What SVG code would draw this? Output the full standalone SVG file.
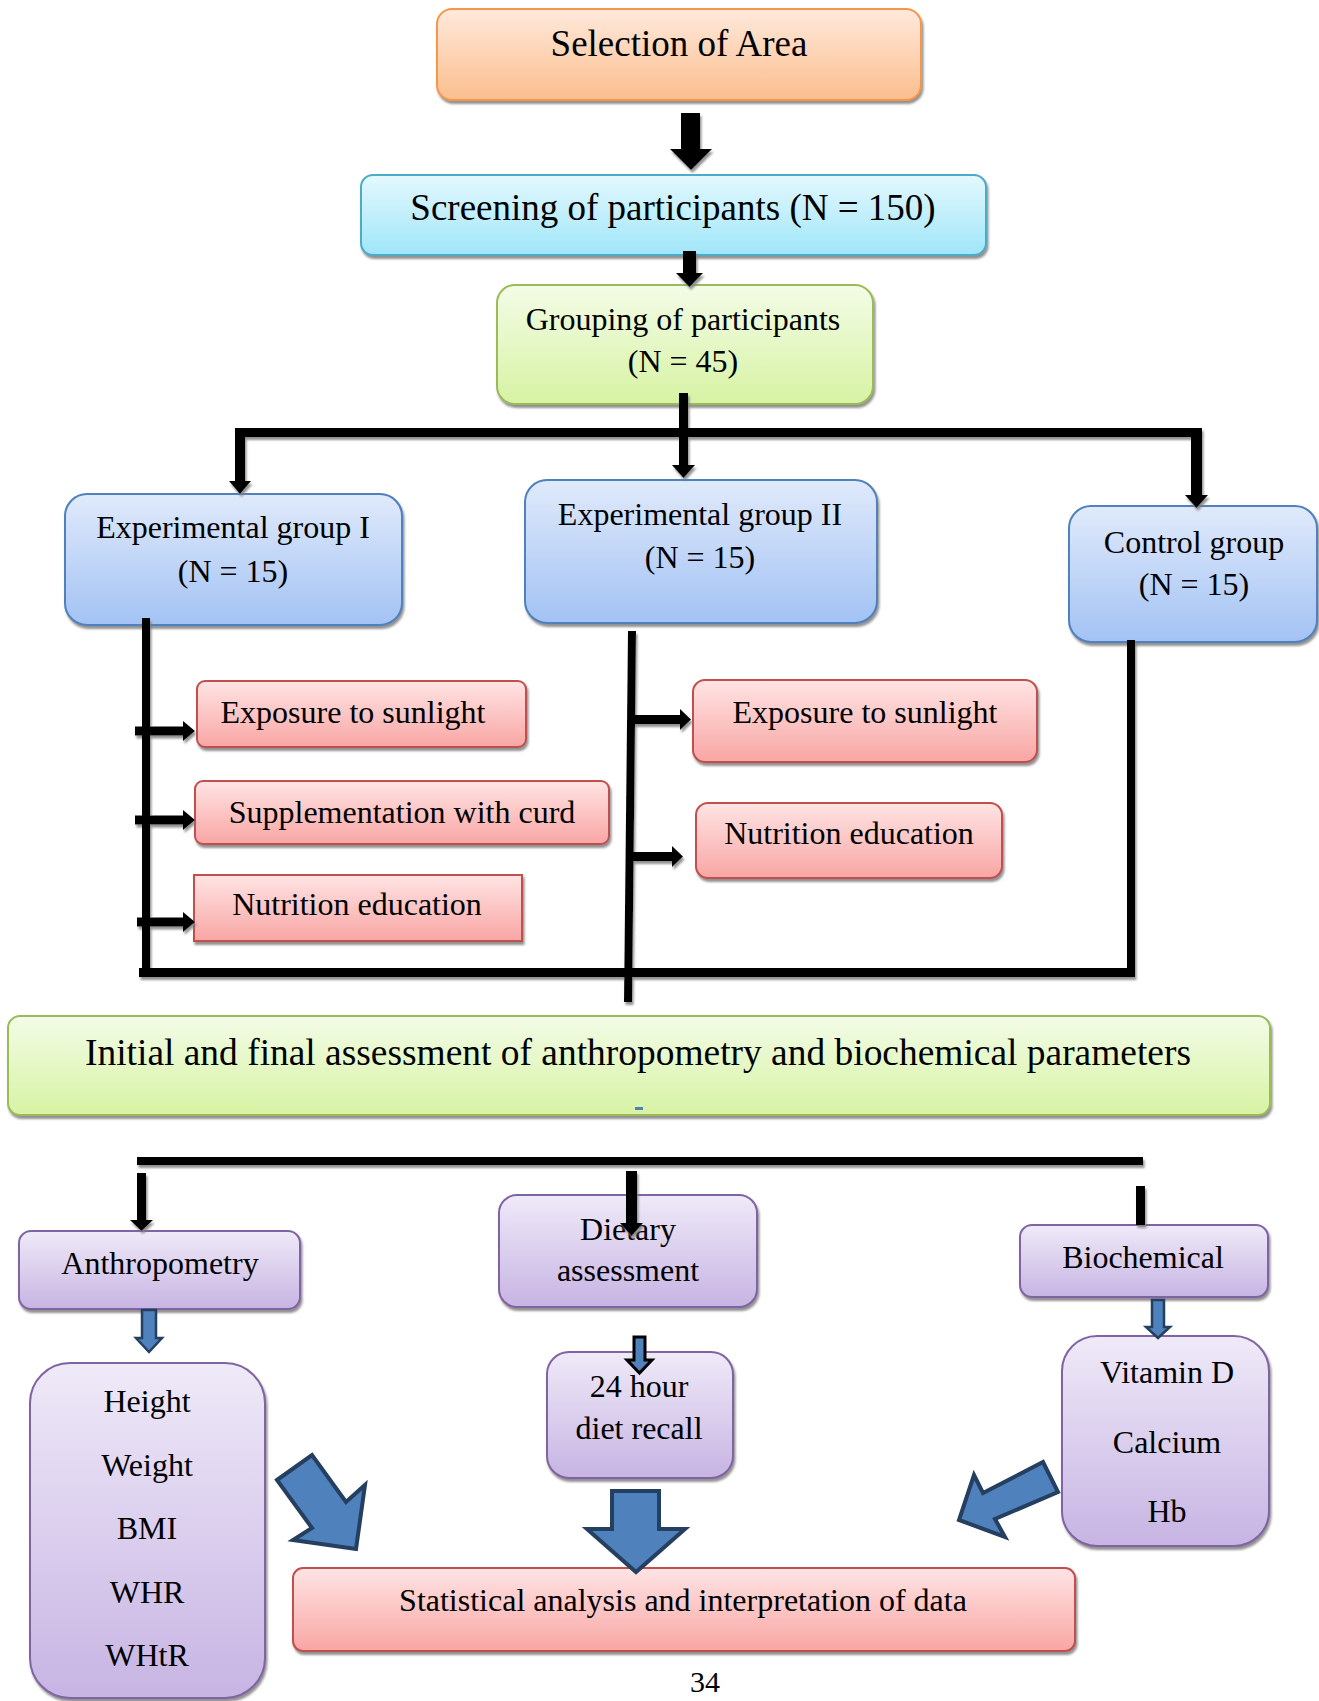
<svg xmlns="http://www.w3.org/2000/svg" width="1319" height="1701" viewBox="0 0 1319 1701">
<style>
text{font-family:"Liberation Serif","Times New Roman",serif;fill:#000;text-anchor:middle}
.t32{font-size:32px}
.t37{font-size:37px}
.box{stroke-width:2}
.or{fill:url(#gOr);stroke:#F79646}
.cy{fill:url(#gCy);stroke:#4BACC6}
.gr{fill:url(#gGr);stroke:#9BBB59}
.bl{fill:url(#gBl);stroke:#4F81BD}
.rd{fill:url(#gRd);stroke:#C0504D}
.pu{fill:url(#gPu);stroke:#8064A2}
.blk{fill:#000}
.barrow{fill:#4F81BD;stroke:#243F60;stroke-width:4;stroke-linejoin:miter}
</style>
<defs>
<linearGradient id="gOr" x1="0" y1="0" x2="0" y2="1"><stop offset="0" stop-color="#FFE9DC"/><stop offset="1" stop-color="#FBBE8E"/></linearGradient>
<linearGradient id="gCy" x1="0" y1="0" x2="0" y2="1"><stop offset="0" stop-color="#E4F8FE"/><stop offset="1" stop-color="#9FE6F9"/></linearGradient>
<linearGradient id="gGr" x1="0" y1="0" x2="0" y2="1"><stop offset="0" stop-color="#F3FCE7"/><stop offset="1" stop-color="#D7F3A3"/></linearGradient>
<linearGradient id="gBl" x1="0" y1="0" x2="0" y2="1"><stop offset="0" stop-color="#E0EAFB"/><stop offset="1" stop-color="#A3C2F4"/></linearGradient>
<linearGradient id="gRd" x1="0" y1="0" x2="0" y2="1"><stop offset="0" stop-color="#FFE4E4"/><stop offset="1" stop-color="#F8A6A4"/></linearGradient>
<linearGradient id="gPu" x1="0" y1="0" x2="0" y2="1"><stop offset="0" stop-color="#EFEAF8"/><stop offset="1" stop-color="#C7B4E3"/></linearGradient>
<filter id="sh" x="-5%" y="-5%" width="110%" height="120%"><feDropShadow dx="1.5" dy="3" stdDeviation="1" flood-color="#7F7F7F" flood-opacity="0.85"/></filter>
</defs>

<g id="n-selection"><rect class="box or" x="437" y="9" width="484" height="91" rx="15" filter="url(#sh)"/><text class="t37" x="679" y="56">Selection of Area</text></g>
<g id="n-screening"><rect class="box cy" x="361" y="175" width="625" height="80" rx="12" filter="url(#sh)"/><text class="t37" x="673" y="220">Screening of participants (N = 150)</text></g>
<g id="n-grouping"><rect class="box gr" x="497" y="285" width="376" height="119" rx="18" filter="url(#sh)"/><text class="t32" x="683" y="330">Grouping of participants</text><text class="t32" x="683" y="372">(N = 45)</text></g>

<g id="n-exp1"><rect class="box bl" x="65" y="494" width="337" height="131" rx="22" filter="url(#sh)"/><text class="t32" x="233" y="538">Experimental group I</text><text class="t32" x="233" y="582">(N = 15)</text></g>
<g id="n-exp2"><rect class="box bl" x="525" y="480" width="352" height="143" rx="22" filter="url(#sh)"/><text class="t32" x="700" y="525">Experimental group II</text><text class="t32" x="700" y="568">(N = 15)</text></g>
<g id="n-control"><rect class="box bl" x="1069" y="506" width="248" height="136" rx="22" filter="url(#sh)"/><text class="t32" x="1194" y="553">Control group</text><text class="t32" x="1194" y="595">(N = 15)</text></g>

<g id="n-e1-sun"><rect class="box rd" x="197" y="681" width="329" height="66" rx="8" filter="url(#sh)"/><text class="t32" x="353" y="723">Exposure to sunlight</text></g>
<g id="n-e1-curd"><rect class="box rd" x="195" y="781" width="414" height="63" rx="8" filter="url(#sh)"/><text class="t32" x="402" y="823">Supplementation with curd</text></g>
<g id="n-e1-edu"><rect class="box rd" x="194" y="875" width="328" height="66" filter="url(#sh)"/><text class="t32" x="357" y="915">Nutrition education</text></g>
<g id="n-e2-sun"><rect class="box rd" x="693" y="680" width="344" height="82" rx="12" filter="url(#sh)"/><text class="t32" x="865" y="723">Exposure to sunlight</text></g>
<g id="n-e2-edu"><rect class="box rd" x="696" y="803" width="306" height="75" rx="12" filter="url(#sh)"/><text class="t32" x="849" y="844">Nutrition education</text></g>

<g id="n-assessment"><rect class="box gr" x="8" y="1016" width="1262" height="99" rx="12" filter="url(#sh)"/><text class="t37" x="638" y="1065" textLength="1106" lengthAdjust="spacingAndGlyphs">Initial and final assessment of anthropometry and biochemical parameters</text><rect x="635" y="1107" width="8" height="3" fill="#4F81BD"/></g>

<g id="n-anthro"><rect class="box pu" x="19" y="1231" width="281" height="78" rx="12" filter="url(#sh)"/><text class="t32" x="160" y="1274">Anthropometry</text></g>
<g id="n-dietary"><rect class="box pu" x="499" y="1195" width="258" height="112" rx="18" filter="url(#sh)"/><text class="t32" x="628" y="1240">Dietary</text><text class="t32" x="628" y="1281">assessment</text></g>
<g id="n-bio"><rect class="box pu" x="1020" y="1225" width="248" height="72" rx="12" filter="url(#sh)"/><text class="t32" x="1143" y="1268">Biochemical</text></g>

<g id="n-anthro-list"><rect class="box pu" x="30" y="1363" width="235" height="335" rx="40" filter="url(#sh)"/><text class="t32" x="147" y="1412">Height</text><text class="t32" x="147" y="1476">Weight</text><text class="t32" x="147" y="1539">BMI</text><text class="t32" x="147" y="1603">WHR</text><text class="t32" x="147" y="1666">WHtR</text></g>
<g id="n-recall"><rect class="box pu" x="547" y="1352" width="186" height="126" rx="22" filter="url(#sh)"/><text class="t32" x="639" y="1397">24 hour</text><text class="t32" x="639" y="1439">diet recall</text></g>
<g id="n-bio-list"><rect class="box pu" x="1062" y="1336" width="207" height="210" rx="35" filter="url(#sh)"/><text class="t32" x="1167" y="1383">Vitamin D</text><text class="t32" x="1167" y="1453">Calcium</text><text class="t32" x="1167" y="1522">Hb</text></g>
<g id="n-stat"><rect class="box rd" x="293" y="1568" width="782" height="83" rx="10" filter="url(#sh)"/><text class="t32" x="683" y="1611">Statistical analysis and interpretation of data</text></g>

<g id="connectors">
<g filter="url(#sh)">
<polygon class="blk" points="681,113 700,113 700,149 712,149 691,170 670,149 681,149"/>
<polygon class="blk" points="683,251 696,251 696,273 703,273 689.5,287 676,273 683,273"/>
<polygon class="blk" points="679,393 688,393 688,465 695,465 683.5,478 672,465 679,465"/>
<rect class="blk" x="236" y="428" width="966" height="9"/>
<polygon class="blk" points="235,428 245,428 245,481 251,481 240,494 229,481 235,481"/>
<polygon class="blk" points="1191,428 1202,428 1202,495 1208,495 1196.5,508 1185,495 1191,495"/>
<rect class="blk" x="142" y="618" width="8" height="354"/>
<polygon class="blk" points="135,726.5 183,726.5 183,721 195,731 183,741 183,735.5 135,735.5"/>
<polygon class="blk" points="135,815.5 183,815.5 183,810 195,820 183,830 183,824.5 135,824.5"/>
<polygon class="blk" points="137,917.5 183,917.5 183,912 195,922 183,932 183,926.5 137,926.5"/>
<rect class="blk" x="139" y="968" width="996" height="9"/>
<rect class="blk" x="1127" y="640" width="8" height="337"/>
<polygon class="blk" points="628,631 636,631 632,1002 624,1002"/>
<polygon class="blk" points="632,715 680,715 680,709 691,719.5 680,730 680,724 632,724"/>
<polygon class="blk" points="632,852 672,852 672,846 683,856.5 672,867 672,861 632,861"/>
<rect class="blk" x="137" y="1157" width="1006" height="8"/>
<polygon class="blk" points="137,1173 146,1173 146,1220 153,1220 141.5,1231 130,1220 137,1220"/>
<polygon class="blk" points="626,1171 637,1171 637,1223 643,1223 631.5,1236 620,1223 626,1223"/>
<rect class="blk" x="1136" y="1186" width="9" height="39"/>
</g>
<polygon fill="#4F81BD" stroke="#243F60" stroke-width="2.5" points="142,1310 156,1310 156,1338 162,1338 149,1352 136,1338 142,1338"/>
<polygon fill="#4F81BD" stroke="#243F60" stroke-width="2.5" points="1152,1300 1164,1300 1164,1327 1170,1327 1158,1338 1146,1327 1152,1327"/>
<polygon fill="#4F81BD" stroke="#000" stroke-width="3" points="634,1337 645,1337 645,1360 652,1360 639.5,1373 627,1360 634,1360"/>
<polygon class="barrow" points="612,1491 659,1491 659,1529 685,1529 636,1572 587,1529 612,1529"/>
<polygon class="barrow" points="277,1480 312,1455 346,1502 365,1485 356,1549 293,1540 312,1528"/>
<polygon class="barrow" points="1043,1462 1058,1492 995,1519 1005,1537 959,1520 974,1475 983,1493"/>
</g>

<text x="705" y="1692" style="font-size:30px">34</text>
</svg>
